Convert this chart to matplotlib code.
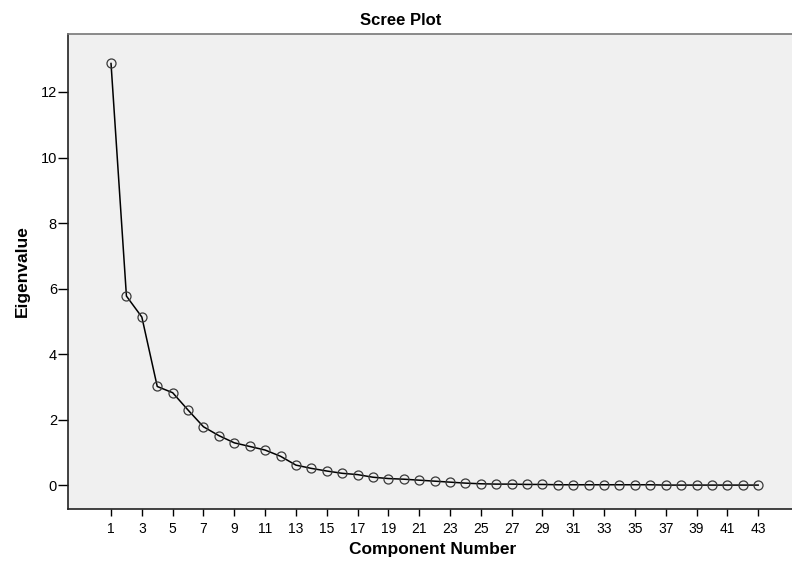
import matplotlib
matplotlib.use("Agg")
import matplotlib.pyplot as plt
import numpy as np

# Datos del scree plot
componentes = np.arange(1, 44)
autovalores = [12.87, 5.77, 5.13, 3.01, 2.82, 2.29, 1.78, 1.51, 1.29, 1.18,
               1.07, 0.88, 0.61, 0.51, 0.43, 0.36, 0.32, 0.24, 0.20, 0.18,
               0.15, 0.12, 0.09, 0.06, 0.04, 0.03, 0.03, 0.02, 0.02, 0.01,
               0.01, 0.01, 0.01, 0.01, 0.01, 0.01, 0.00, 0.00, 0.00, 0.00,
               0.00, 0.00, 0.00]
x_ticks = list(range(1, 44, 2))
y_ticks = [0, 2, 4, 6, 8, 10, 12]

plt.rcParams['font.family'] = ['Liberation Sans', 'DejaVu Sans']


def scree_plot():
    fig = plt.figure(figsize=(7.92, 5.62), dpi=100)
    ax = fig.add_axes([0.0859, 0.0943, 0.92, 0.8452])
    ax.set_facecolor("#f0f0f0")

    ax.plot(componentes, autovalores, color="black", linewidth=1.1,
            marker="o", markersize=6.5, fillstyle="none",
            markeredgecolor="#3a3a3a", markeredgewidth=0.9)

    ax.set_xlim(-1.79, 45.5)
    ax.set_ylim(-0.73, 13.77)
    ax.set_xticks(x_ticks)
    ax.set_yticks(y_ticks)
    ax.tick_params(axis="x", length=5, width=1, labelsize=10, pad=4)
    ax.tick_params(axis="y", length=7, width=1, labelsize=10.5, pad=1)

    for lado in ["left", "bottom", "top"]:
        ax.spines[lado].set_color("#222222")
        ax.spines[lado].set_linewidth(1.2)
    ax.spines["top"].set_color("#777777")
    ax.spines["right"].set_visible(False)

    ax.set_xlabel("Component Number", fontsize=12.5, fontweight="bold", labelpad=5)
    ax.set_ylabel("Eigenvalue", fontsize=12.5, fontweight="bold", labelpad=8)
    fig.text(0.506, 0.964, "Scree Plot", fontsize=12, fontweight="bold",
             ha="center", va="center")

    plt.savefig("out.png", dpi=100)


if __name__ == '__main__':
    scree_plot()
